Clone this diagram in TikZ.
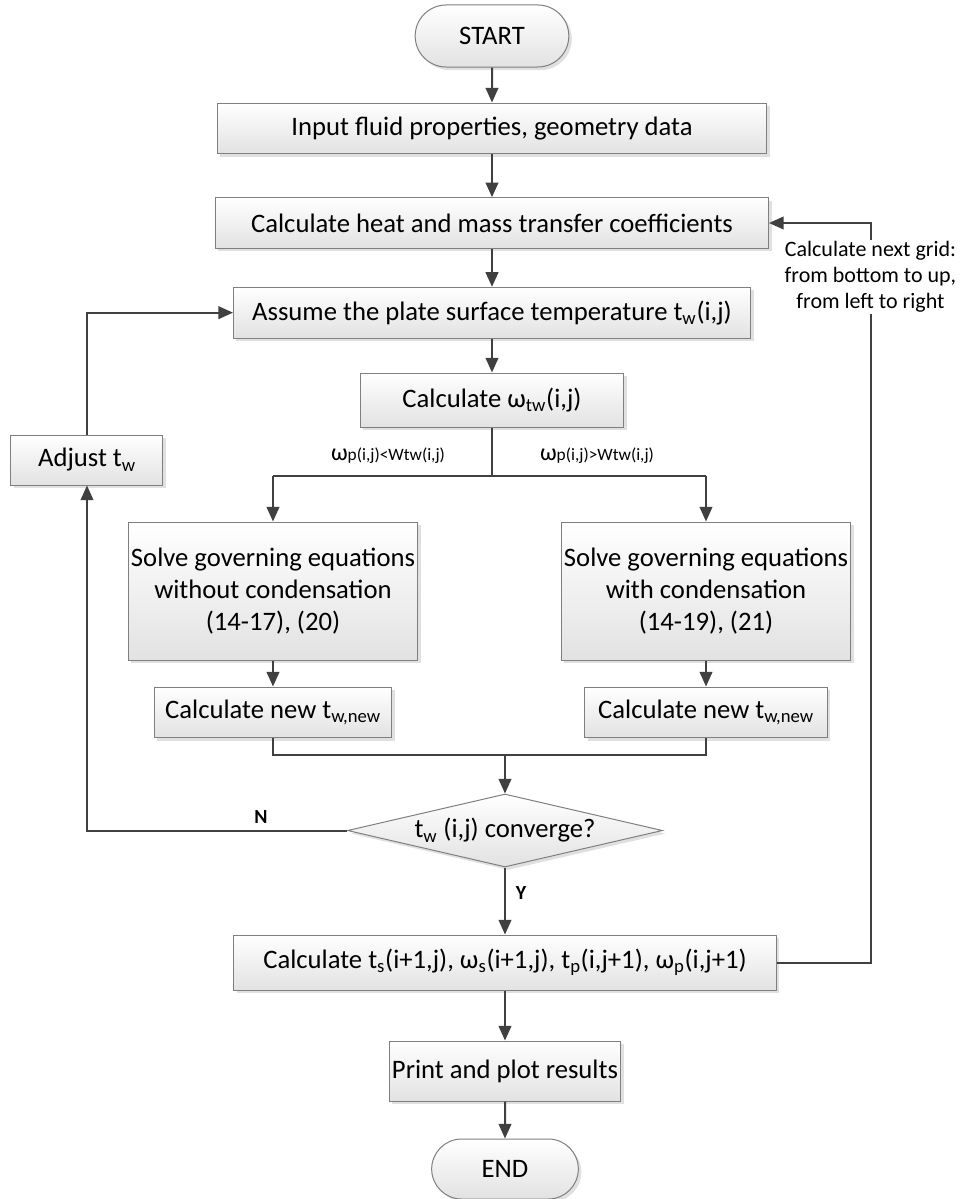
\documentclass[tikz,border=0pt]{standalone}
\usepackage{fontspec}
\setmainfont{Carlito}
\usetikzlibrary{positioning,calc,shapes.geometric,shapes.misc,shadows,arrows.meta}

\definecolor{edgegray}{HTML}{7F7F7F}
\definecolor{linegray}{HTML}{404040}
\definecolor{shadegray}{HTML}{E2E2E2}

\begin{document}
\begin{tikzpicture}[
  font=\fontsize{20pt}{24pt}\selectfont,
  box/.style={
    draw=edgegray,
    line width=0.75pt,
    top color=white,
    bottom color=shadegray,
    general shadow={fill=black!12, shadow xshift=2.25pt, shadow yshift=-2.25pt},
    minimum height=38pt,
    inner sep=2pt,
    align=center
  },
  term/.style={box, rounded rectangle, minimum height=46.5pt},   % START / END
  decide/.style={box, diamond, aspect=4.3, inner sep=0pt,
    minimum width=236.25pt, minimum height=54.75pt},
  wire/.style={draw=linegray, line width=1.5pt},
  flow/.style={wire, -{Triangle[length=11pt,width=9.5pt]}},
  cond/.style={font=\fontsize{13pt}{15pt}\selectfont},
  flag/.style={font=\fontsize{15pt}{17pt}\selectfont\bfseries},
  note/.style={font=\fontsize{16.5pt}{19.5pt}\selectfont, fill=white, align=center, inner sep=1pt}
]

\useasboundingbox (-369pt,27pt) rectangle (353.25pt,-872.25pt);

% --- Main column ---
\node[term, minimum width=119.25pt] (start) {START};
\node[box, minimum width=411.75pt, below=26.25pt of start] (input) {Input fluid properties, geometry data};
\node[box, minimum width=414.75pt, below=32.25pt of input] (coef) {Calculate heat and mass transfer coefficients};
\node[box, minimum width=387.75pt, below=28.5pt of coef] (assume) {Assume the plate surface temperature t\textsubscript{w}(i,j)};
\node[box, minimum width=197.25pt, minimum height=40.5pt, below=25.5pt of assume] (omega) {Calculate ω\textsubscript{tw}(i,j)};

% --- Two branches ---
\node[box, minimum width=180pt, minimum height=103.5pt, below=70.5pt of omega, xshift=-164.25pt] (solvea)
  {Solve governing equations\\without condensation\\(14-17), (20)};
\node[box, minimum width=180pt, minimum height=103.5pt, below=70.5pt of omega, xshift=160.5pt] (solveb)
  {Solve governing equations\\with condensation\\(14-19), (21)};
\node[box, minimum width=178pt, below=19.5pt of solvea] (newa) {Calculate new t\textsubscript{w,new}};
\node[box, minimum width=182pt, below=19.5pt of solveb] (newb) {Calculate new t\textsubscript{w,new}};

% --- Convergence check ---
\node[decide, below=274.5pt of omega, xshift=9.75pt] (conv) {t\textsubscript{w} (i,j) converge?};
\node[box, minimum width=114pt, minimum height=37.5pt, below=72pt of assume, xshift=-303.75pt] (adjust) {Adjust t\textsubscript{w}};

% --- Lower column ---
\node[box, minimum width=406.5pt, minimum height=41.25pt, below=50.25pt of conv] (march)
  {Calculate t\textsubscript{s}(i+1,j), ω\textsubscript{s}(i+1,j), t\textsubscript{p}(i,j+1), ω\textsubscript{p}(i,j+1)};
\node[box, minimum width=138.75pt, minimum height=45pt, below=37.5pt of march] (print) {Print and plot results};
\node[term, minimum width=114pt, minimum height=45pt, below=27.75pt of print] (stop) {END};

% --- Connectors ---
\draw[flow] (start) -- (input);
\draw[flow] (input) -- (coef);
\draw[flow] (coef) -- (assume);
\draw[flow] (assume) -- (omega);

\coordinate[below=36pt of omega.south] (fork);
\draw[wire] (omega.south) -- (fork);
\draw[wire] (solvea.north |- fork) -- (solveb.north |- fork);
\draw[flow] (solvea.north |- fork) -- (solvea.north);
\draw[flow] (solveb.north |- fork) -- (solveb.north);
\draw[flow] (solvea) -- (newa);
\draw[flow] (solveb) -- (newb);

\coordinate[below=12.75pt of newa.south] (joina);
\coordinate[below=12.75pt of newb.south] (joinb);
\draw[wire] (newa.south) -- (joina) -- (joinb) -- (newb.south);
\draw[flow] (conv.north |- joina) -- (conv.north);

\draw[flow] (conv.west) -| (adjust.south);
\draw[flow] (adjust.north) |- (assume.west);

\draw[flow] (conv) -- (march);
\draw[flow] (march) -- (print);
\draw[flow] (print) -- (stop);

\coordinate[right=70.5pt of march.east] (gridturn);
\draw[flow] (march.east) -- (gridturn) |- (coef.east);

% --- Labels ---
\node[cond] (lesslabel) at ($(omega.south)+(-78pt,-21pt)$) {{\fontsize{18pt}{18pt}\selectfont ω}p(i,j)<Wtw(i,j)};
\node[cond] (morelabel) at ($(omega.south)+(78.75pt,-21pt)$) {{\fontsize{18pt}{18pt}\selectfont ω}p(i,j)>Wtw(i,j)};
\node[flag] (nolabel) at ($(conv.west)+(-64.5pt,10pt)$) {N};
\node[flag] (yeslabel) at ($(conv.south)+(12pt,-19pt)$) {Y};
\node[note] (gridnote) at ($(gridturn |- coef.east)+(0,-40.5pt)$)
  {Calculate next grid:\\from bottom to up,\\from left to right};

\end{tikzpicture}
\end{document}
